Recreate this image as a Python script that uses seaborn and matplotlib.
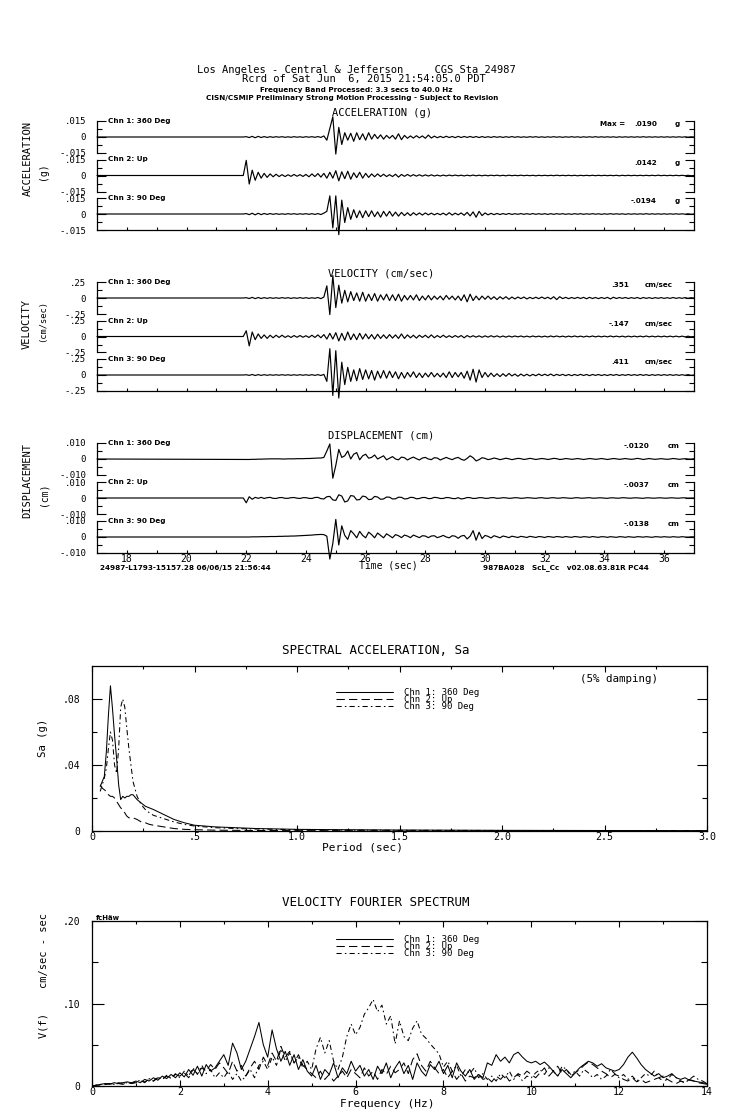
import numpy as np
import pandas as pd
import matplotlib
matplotlib.use("Agg")
import matplotlib.pyplot as plt
import matplotlib.transforms as mtransforms
import seaborn as sns

# ============================================
# DATA
# ============================================
# time histories sampled every 0.1 s from 21.9 s to 37.0 s (pre-event is flat from 17 s)
acc_ch1 = [0.0,
    0.0003, -0.0005, 0.0006, -0.0007, 0.0006, -0.0005, 0.0004, -0.0004, 0.0003, -0.0003,
    0.0003, -0.0002, 0.0003, -0.0003, 0.0002, -0.0003, 0.0003, -0.0002, 0.0002, -0.0003,
    0.0003, -0.0002, 0.0003, -0.0003, 0.0004, -0.0004, 0.0010, -0.0030, 0.0080, 0.0190,
    -0.0160, 0.0090, -0.0070, 0.0040, -0.0030, 0.0035, -0.0040, 0.0040, -0.0025, 0.0030,
    -0.0030, 0.0040, -0.0020, 0.0025, -0.0015, 0.0020, -0.0020, 0.0015, -0.0012, 0.0015,
    -0.0020, 0.0030, -0.0025, 0.0015, -0.0012, 0.0010, -0.0010, 0.0012, -0.0008, 0.0010,
    -0.0012, 0.0018, -0.0010, 0.0008, -0.0007, 0.0006, -0.0006, 0.0007, -0.0005, 0.0005,
    -0.0006, 0.0006, -0.0005, 0.0005, -0.0004, 0.0005, -0.0004, 0.0004, -0.0005, 0.0004,
    -0.0004, 0.0003, -0.0004, 0.0004, -0.0003, 0.0003, -0.0004, 0.0003, -0.0003, 0.0004,
    -0.0003, 0.0003, -0.0003, 0.0002, -0.0003, 0.0003, -0.0002, 0.0003, -0.0003, 0.0002,
    -0.0003, 0.0002, -0.0002, 0.0003, -0.0002, 0.0002, -0.0003, 0.0002, -0.0002, 0.0003,
    -0.0002, 0.0002, -0.0003, 0.0002, -0.0002, 0.0002, -0.0002, 0.0003, -0.0002, 0.0002,
    -0.0002, 0.0002, -0.0002, 0.0002, -0.0003, 0.0002, -0.0002, 0.0002, -0.0002, 0.0002,
    -0.0002, 0.0002, -0.0002, 0.0003, -0.0002, 0.0002, -0.0002, 0.0002, -0.0002, 0.0002,
    -0.0002, 0.0002, -0.0002, 0.0002, -0.0002, 0.0002, -0.0002, 0.0002, -0.0002, 0.0002,
    0.0]
acc_ch2 = [0.0,
    0.0142, -0.0080, 0.0050, -0.0045, 0.0030, -0.0025, 0.0020, -0.0018, 0.0015, -0.0012,
    0.0012, -0.0010, 0.0008, -0.0010, 0.0007, -0.0008, 0.0010, -0.0007, 0.0008, -0.0009,
    0.0010, -0.0012, 0.0015, -0.0010, 0.0018, -0.0015, 0.0020, -0.0025, 0.0030, -0.0025,
    0.0045, -0.0050, 0.0035, -0.0030, 0.0040, -0.0035, 0.0025, -0.0020, 0.0030, -0.0025,
    0.0020, -0.0018, 0.0015, -0.0012, 0.0015, -0.0010, 0.0012, -0.0010, 0.0008, -0.0010,
    0.0012, -0.0015, 0.0010, -0.0008, 0.0010, -0.0007, 0.0008, -0.0006, 0.0007, -0.0006,
    0.0006, -0.0005, 0.0006, -0.0005, 0.0004, -0.0005, 0.0004, -0.0004, 0.0004, -0.0003,
    0.0004, -0.0003, 0.0003, -0.0004, 0.0003, -0.0003, 0.0004, -0.0003, 0.0003, -0.0003,
    0.0003, -0.0003, 0.0003, -0.0002, 0.0003, -0.0003, 0.0002, -0.0003, 0.0003, -0.0002,
    0.0002, -0.0002, 0.0003, -0.0002, 0.0002, -0.0002, 0.0002, -0.0003, 0.0002, -0.0002,
    0.0002, -0.0002, 0.0002, -0.0002, 0.0003, -0.0002, 0.0002, -0.0002, 0.0002, -0.0002,
    0.0002, -0.0003, 0.0002, -0.0002, 0.0002, -0.0002, 0.0002, -0.0002, 0.0002, -0.0002,
    0.0002, -0.0002, 0.0002, -0.0002, 0.0002, -0.0003, 0.0002, -0.0002, 0.0002, -0.0002,
    0.0002, -0.0002, 0.0002, -0.0002, 0.0002, -0.0002, 0.0002, -0.0002, 0.0003, -0.0002,
    0.0002, -0.0002, 0.0002, -0.0002, 0.0002, -0.0002, 0.0002, -0.0002, 0.0002, -0.0002,
    0.0]
acc_ch3 = [0.0,
    0.0004, -0.0006, 0.0007, -0.0008, 0.0007, -0.0006, 0.0005, -0.0004, 0.0004, -0.0003,
    0.0003, -0.0003, 0.0002, -0.0003, 0.0003, -0.0002, 0.0003, -0.0003, 0.0002, -0.0002,
    0.0003, -0.0003, 0.0003, -0.0004, 0.0004, -0.0005, 0.0008, 0.0025, 0.0170, -0.0130,
    0.0170, -0.0194, 0.0130, -0.0080, 0.0060, -0.0050, 0.0040, -0.0035, 0.0030, -0.0035,
    0.0030, -0.0025, 0.0030, -0.0025, 0.0020, -0.0030, 0.0025, -0.0020, 0.0025, -0.0020,
    0.0018, -0.0020, 0.0015, -0.0015, 0.0012, -0.0015, 0.0012, -0.0010, 0.0010, -0.0010,
    0.0010, -0.0008, 0.0008, -0.0008, 0.0006, -0.0007, 0.0008, -0.0010, 0.0012, -0.0010,
    0.0008, -0.0008, 0.0010, -0.0012, 0.0015, -0.0018, 0.0020, -0.0030, 0.0025, -0.0015,
    0.0010, -0.0008, 0.0006, -0.0006, 0.0005, -0.0005, 0.0004, -0.0004, 0.0005, -0.0004,
    0.0003, -0.0003, 0.0004, -0.0003, 0.0003, -0.0003, 0.0004, -0.0003, 0.0003, -0.0003,
    0.0003, -0.0004, 0.0003, -0.0003, 0.0003, -0.0002, 0.0003, -0.0003, 0.0002, -0.0003,
    0.0003, -0.0002, 0.0003, -0.0003, 0.0002, -0.0002, 0.0003, -0.0002, 0.0002, -0.0003,
    0.0002, -0.0002, 0.0003, -0.0002, 0.0002, -0.0002, 0.0002, -0.0003, 0.0002, -0.0002,
    0.0002, -0.0002, 0.0002, -0.0002, 0.0003, -0.0002, 0.0002, -0.0002, 0.0002, -0.0002,
    0.0002, -0.0002, 0.0002, -0.0002, 0.0002, -0.0002, 0.0002, -0.0002, 0.0002, -0.0002,
    0.0]

vel_ch1 = [0.0,
    0.005, -0.008, 0.010, -0.010, 0.008, -0.008, 0.006, -0.006, 0.005, -0.005,
    0.004, -0.005, 0.006, -0.004, 0.005, -0.006, 0.004, -0.005, 0.006, -0.005,
    0.005, -0.006, 0.004, -0.005, 0.008, -0.010, 0.015, 0.190, -0.260, 0.351,
    -0.150, 0.200, -0.080, 0.120, -0.060, 0.100, -0.040, 0.080, -0.050, 0.090,
    -0.050, 0.060, -0.040, 0.070, -0.050, 0.050, -0.030, 0.060, -0.040, 0.050,
    -0.040, 0.060, -0.050, 0.040, -0.030, 0.040, -0.030, 0.050, -0.040, 0.030,
    -0.030, 0.040, -0.030, 0.030, -0.020, 0.030, -0.030, 0.040, -0.020, 0.030,
    -0.030, 0.030, -0.040, 0.050, -0.060, 0.060, -0.040, 0.030, -0.030, 0.030,
    -0.020, 0.030, -0.020, 0.020, -0.025, 0.020, -0.015, 0.020, -0.020, 0.015,
    -0.015, 0.015, -0.010, 0.015, -0.015, 0.010, -0.010, 0.012, -0.010, 0.015,
    -0.010, 0.012, -0.015, 0.020, -0.025, 0.020, -0.010, 0.010, -0.010, 0.008,
    -0.008, 0.010, -0.008, 0.010, -0.012, 0.010, -0.008, 0.008, -0.010, 0.008,
    -0.008, 0.010, -0.015, 0.012, -0.008, 0.008, -0.006, 0.008, -0.008, 0.006,
    -0.006, 0.008, -0.010, 0.008, -0.006, 0.006, -0.008, 0.006, -0.005, 0.006,
    -0.006, 0.005, -0.006, 0.008, -0.006, 0.005, -0.005, 0.006, -0.005, 0.005,
    0.0]
vel_ch2 = [0.0,
    0.090, -0.147, 0.070, -0.050, 0.040, -0.030, 0.025, -0.030, 0.020, -0.020,
    0.020, -0.015, 0.020, -0.015, 0.012, -0.015, 0.015, -0.012, 0.015, -0.012,
    0.012, -0.015, 0.020, -0.015, 0.025, -0.020, 0.030, -0.040, 0.050, -0.040,
    0.060, -0.070, 0.050, -0.060, 0.070, -0.050, 0.040, -0.050, 0.050, -0.040,
    0.040, -0.035, 0.030, -0.040, 0.035, -0.030, 0.025, -0.030, 0.030, -0.025,
    0.025, -0.030, 0.040, -0.030, 0.025, -0.020, 0.020, -0.025, 0.020, -0.015,
    0.020, -0.020, 0.025, -0.020, 0.015, -0.015, 0.020, -0.015, 0.012, -0.015,
    0.015, -0.012, 0.015, -0.020, 0.015, -0.010, 0.012, -0.010, 0.010, -0.012,
    0.010, -0.010, 0.012, -0.008, 0.010, -0.010, 0.008, -0.010, 0.008, -0.008,
    0.008, -0.006, 0.008, -0.008, 0.006, -0.008, 0.008, -0.006, 0.006, -0.008,
    0.006, -0.008, 0.008, -0.006, 0.008, -0.006, 0.006, -0.008, 0.006, -0.006,
    0.008, -0.006, 0.006, -0.008, 0.006, -0.006, 0.008, -0.006, 0.006, -0.006,
    0.006, -0.006, 0.008, -0.006, 0.006, -0.006, 0.006, -0.008, 0.006, -0.006,
    0.006, -0.006, 0.006, -0.006, 0.008, -0.006, 0.006, -0.006, 0.006, -0.006,
    0.006, -0.006, 0.006, -0.006, 0.006, -0.006, 0.006, -0.006, 0.005, -0.005,
    0.0]
vel_ch3 = [0.0,
    0.004, -0.006, 0.008, -0.008, 0.006, -0.006, 0.005, -0.005, 0.004, -0.004,
    0.004, -0.004, 0.005, -0.004, 0.004, -0.005, 0.004, -0.004, 0.005, -0.004,
    0.004, -0.005, 0.005, -0.006, 0.006, -0.008, 0.010, -0.100, 0.411, -0.320,
    0.380, -0.360, 0.200, -0.150, 0.120, -0.100, 0.080, -0.090, 0.100, -0.070,
    0.080, -0.060, 0.070, -0.080, 0.060, -0.050, 0.070, -0.050, 0.060, -0.040,
    0.050, -0.060, 0.040, -0.050, 0.040, -0.030, 0.050, -0.040, 0.030, -0.040,
    0.030, -0.030, 0.040, -0.030, 0.025, -0.030, 0.030, -0.040, 0.050, -0.040,
    0.040, -0.030, 0.040, -0.050, 0.060, -0.080, 0.090, -0.110, 0.080, -0.040,
    0.040, -0.030, 0.030, -0.025, 0.020, -0.025, 0.020, -0.020, 0.025, -0.015,
    0.015, -0.020, 0.015, -0.015, 0.012, -0.015, 0.010, -0.012, 0.015, -0.010,
    0.012, -0.010, 0.015, -0.012, 0.010, -0.008, 0.010, -0.010, 0.008, -0.010,
    0.008, -0.008, 0.010, -0.008, 0.008, -0.010, 0.008, -0.006, 0.008, -0.008,
    0.006, -0.008, 0.008, -0.006, 0.008, -0.008, 0.006, -0.006, 0.008, -0.006,
    0.006, -0.006, 0.008, -0.006, 0.006, -0.008, 0.006, -0.006, 0.006, -0.006,
    0.006, -0.005, 0.006, -0.006, 0.005, -0.006, 0.005, -0.005, 0.006, -0.005,
    0.0]

disp_ch1 = [-0.0003,
    -0.0003, -0.0003, -0.0002, -0.0002, -0.0001, -0.0001, 0.0000, 0.0000, 0.0001, 0.0001,
    0.0001, 0.0001, 0.0000, 0.0000, 0.0001, 0.0001, 0.0001, 0.0002, 0.0002, 0.0002,
    0.0003, 0.0003, 0.0004, 0.0005, 0.0006, 0.0006, 0.0010, 0.0050, 0.0094, -0.0120,
    -0.0040, 0.0060, 0.0010, 0.0020, 0.0050, 0.0000, 0.0030, 0.0040, -0.0005, 0.0020,
    0.0030, 0.0005, 0.0010, 0.0025, 0.0000, 0.0010, 0.0020, -0.0005, 0.0005, 0.0015,
    0.0000, -0.0005, 0.0012, 0.0008, -0.0006, 0.0004, 0.0012, 0.0002, -0.0006, 0.0006,
    0.0010, 0.0000, -0.0004, 0.0008, 0.0006, -0.0006, 0.0002, 0.0010, 0.0002, -0.0004,
    0.0005, 0.0010, -0.0002, -0.0008, 0.0004, 0.0020, 0.0008, -0.0012, -0.0004, 0.0008,
    0.0004, -0.0004, 0.0000, 0.0006, 0.0002, -0.0004, 0.0000, 0.0005, 0.0001, -0.0004,
    0.0000, 0.0004, 0.0002, -0.0003, 0.0000, 0.0004, 0.0001, -0.0003, 0.0000, 0.0003,
    0.0001, -0.0003, 0.0000, 0.0004, 0.0002, -0.0003, -0.0001, 0.0003, 0.0001, -0.0002,
    0.0000, 0.0003, 0.0000, -0.0003, 0.0000, 0.0003, 0.0001, -0.0002, 0.0000, 0.0003,
    0.0000, -0.0003, 0.0000, 0.0003, 0.0001, -0.0002, 0.0000, 0.0003, 0.0000, -0.0002,
    0.0000, 0.0004, 0.0001, -0.0003, 0.0000, 0.0003, 0.0000, -0.0002, 0.0000, 0.0002,
    0.0000, -0.0002, 0.0000, 0.0003, 0.0001, -0.0002, 0.0000, 0.0002, 0.0000, -0.0001,
    0.0002]
disp_ch2 = [0.0,
    -0.0030, 0.0008, -0.0008, 0.0004, -0.0002, 0.0004, -0.0003, 0.0002, 0.0004, -0.0002,
    -0.0003, 0.0002, 0.0003, -0.0002, -0.0002, 0.0002, 0.0003, -0.0001, -0.0003, 0.0002,
    0.0002, -0.0002, -0.0003, 0.0003, 0.0004, -0.0004, -0.0006, 0.0008, 0.0010, -0.0012,
    -0.0015, 0.0020, 0.0012, -0.0025, -0.0018, 0.0015, 0.0012, -0.0012, -0.0010, 0.0012,
    0.0008, -0.0010, -0.0008, 0.0010, 0.0006, -0.0008, -0.0006, 0.0006, 0.0005, -0.0006,
    -0.0005, 0.0005, 0.0004, -0.0006, -0.0004, 0.0004, 0.0003, -0.0005, -0.0003, 0.0003,
    0.0003, -0.0004, -0.0003, 0.0004, 0.0002, -0.0003, -0.0003, 0.0003, 0.0002, -0.0003,
    -0.0004, 0.0002, -0.0006, -0.0003, 0.0003, 0.0002, -0.0003, -0.0002, 0.0002, 0.0002,
    -0.0002, -0.0002, 0.0002, 0.0002, -0.0002, -0.0001, 0.0002, 0.0001, -0.0002, -0.0001,
    0.0002, 0.0001, -0.0002, -0.0001, 0.0002, 0.0001, -0.0001, -0.0002, 0.0001, 0.0002,
    -0.0001, -0.0002, 0.0001, 0.0002, -0.0001, -0.0001, 0.0002, 0.0001, -0.0001, -0.0002,
    0.0001, 0.0002, -0.0001, -0.0001, 0.0001, 0.0002, -0.0001, -0.0001, 0.0001, 0.0001,
    -0.0001, -0.0002, 0.0001, 0.0001, -0.0001, -0.0001, 0.0002, 0.0001, -0.0001, -0.0001,
    0.0001, 0.0001, -0.0001, -0.0002, 0.0001, 0.0001, -0.0001, -0.0001, 0.0001, 0.0001,
    -0.0001, -0.0001, 0.0001, 0.0001, -0.0001, -0.0001, 0.0001, 0.0001, -0.0001, 0.0000,
    0.0]
disp_ch3 = [0.0,
    0.0000, 0.0000, 0.0001, 0.0001, 0.0001, 0.0002, 0.0002, 0.0002, 0.0003, 0.0003,
    0.0003, 0.0004, 0.0004, 0.0005, 0.0005, 0.0006, 0.0006, 0.0007, 0.0008, 0.0009,
    0.0010, 0.0011, 0.0012, 0.0014, 0.0015, 0.0016, 0.0015, 0.0005, -0.0138, -0.0040,
    0.0110, -0.0050, 0.0070, 0.0010, -0.0015, 0.0040, 0.0020, -0.0005, 0.0035, 0.0010,
    -0.0005, 0.0030, 0.0015, -0.0005, 0.0025, 0.0010, -0.0005, 0.0020, 0.0008, -0.0005,
    0.0015, 0.0008, -0.0004, 0.0012, 0.0006, -0.0004, 0.0012, 0.0004, -0.0004, 0.0008,
    0.0006, -0.0004, 0.0006, 0.0008, -0.0004, 0.0002, 0.0010, 0.0000, -0.0005, 0.0008,
    0.0005, -0.0008, 0.0006, 0.0010, -0.0012, 0.0005, 0.0040, -0.0020, 0.0030, -0.0010,
    0.0010, 0.0004, -0.0006, 0.0008, 0.0002, -0.0005, 0.0006, 0.0002, -0.0004, 0.0005,
    0.0001, -0.0003, 0.0004, 0.0001, -0.0003, 0.0004, 0.0001, -0.0003, 0.0003, 0.0001,
    -0.0003, 0.0003, 0.0001, -0.0002, 0.0003, 0.0001, -0.0002, 0.0003, 0.0000, -0.0002,
    0.0003, 0.0001, -0.0002, 0.0002, 0.0001, -0.0002, 0.0003, 0.0000, -0.0002, 0.0002,
    0.0001, -0.0002, 0.0002, 0.0000, -0.0002, 0.0002, 0.0001, -0.0002, 0.0002, 0.0000,
    -0.0002, 0.0002, 0.0001, -0.0001, 0.0002, 0.0000, -0.0002, 0.0002, 0.0001, -0.0001,
    0.0002, 0.0000, -0.0001, 0.0002, 0.0000, -0.0001, 0.0002, 0.0000, -0.0001, 0.0001,
    0.0001]

channels = ["Chn 1: 360 Deg", "Chn 2: Up", "Chn 3: 90 Deg"]
acc_peaks = [".0190", ".0142", "-.0194"]
vel_peaks = [".351", "-.147", ".411"]
disp_peaks = ["-.0120", "-.0037", "-.0138"]
acc_ticklabels = [".015", "0", "-.015"]
vel_ticklabels = [".25", "0", "-.25"]
disp_ticklabels = [".010", "0", "-.010"]
time_ticks = [18, 20, 22, 24, 26, 28, 30, 32, 34, 36]
time_labels = ["18", "20", "22", "24", "26", "28", "30", "32", "34", "36"]

# spectral acceleration, 5% damping
periods = [0.04, 0.05, 0.06, 0.07, 0.08, 0.09, 0.10, 0.11, 0.12, 0.13, 0.14, 0.15,
           0.16, 0.17, 0.18, 0.19, 0.20, 0.22, 0.24, 0.26, 0.28, 0.30, 0.35, 0.40,
           0.45, 0.50, 0.60, 0.70, 0.80, 1.00, 1.20, 1.50, 2.00, 2.50, 3.00]
sa_ch1 = [0.027, 0.030, 0.033, 0.048, 0.070, 0.088, 0.074, 0.058, 0.044, 0.028,
          0.019, 0.021, 0.020, 0.021, 0.021, 0.022, 0.022, 0.019, 0.017, 0.015,
          0.014, 0.013, 0.010, 0.007, 0.005, 0.0035, 0.0025, 0.002, 0.0015, 0.001,
          0.0008, 0.0006, 0.0004, 0.0003, 0.0002]
sa_ch2 = [0.028, 0.026, 0.025, 0.024, 0.022, 0.021, 0.021, 0.020, 0.018, 0.016,
          0.014, 0.013, 0.011, 0.009, 0.008, 0.008, 0.008, 0.007, 0.0055, 0.005,
          0.004, 0.0035, 0.0025, 0.0015, 0.001, 0.0008, 0.0005, 0.0004, 0.0003, 0.0002,
          0.0002, 0.0001, 0.0001, 0.0001, 0.0001]
sa_ch3 = [0.024, 0.028, 0.032, 0.038, 0.050, 0.060, 0.055, 0.040, 0.035, 0.050,
          0.075, 0.080, 0.075, 0.062, 0.050, 0.040, 0.030, 0.021, 0.016, 0.013,
          0.011, 0.0095, 0.0075, 0.0055, 0.004, 0.003, 0.002, 0.0015, 0.0012, 0.0008,
          0.0006, 0.0004, 0.0003, 0.0002, 0.0002]
sa_xticks = [0, 0.5, 1.0, 1.5, 2.0, 2.5, 3.0]
sa_xlabels = ["0", ".5", "1.0", "1.5", "2.0", "2.5", "3.0"]
sa_yticks = [0, 0.04, 0.08]
sa_ylabels = ["0", ".04", ".08"]

# velocity Fourier spectrum, every 0.1 Hz from 0 to 14 Hz
fas_ch1 = [0.0, 0.001, 0.002, 0.003, 0.002, 0.004, 0.003, 0.004, 0.005, 0.004,
           0.006, 0.004, 0.008, 0.006, 0.010, 0.007, 0.012, 0.009, 0.014, 0.010,
           0.016, 0.011, 0.020, 0.013, 0.024, 0.012, 0.026, 0.018, 0.022, 0.030,
           0.038, 0.025, 0.052, 0.040, 0.020, 0.030, 0.045, 0.060, 0.077, 0.050,
           0.035, 0.068, 0.045, 0.030, 0.042, 0.025, 0.038, 0.020, 0.032, 0.018,
           0.012, 0.025, 0.008, 0.020, 0.014, 0.028, 0.010, 0.022, 0.015, 0.030,
           0.018, 0.025, 0.012, 0.020, 0.008, 0.024, 0.015, 0.028, 0.010, 0.022,
           0.030, 0.015, 0.025, 0.008, 0.028, 0.018, 0.012, 0.026, 0.020, 0.030,
           0.015, 0.025, 0.010, 0.028, 0.018, 0.012, 0.020, 0.008, 0.014, 0.010,
           0.028, 0.025, 0.038, 0.030, 0.035, 0.028, 0.038, 0.041, 0.035, 0.030,
           0.028, 0.030, 0.026, 0.029, 0.024, 0.018, 0.012, 0.020, 0.015, 0.010,
           0.016, 0.022, 0.026, 0.030, 0.028, 0.024, 0.027, 0.022, 0.020, 0.018,
           0.020, 0.026, 0.035, 0.041, 0.034, 0.026, 0.020, 0.016, 0.012, 0.015,
           0.010, 0.012, 0.015, 0.010, 0.008, 0.010, 0.007, 0.006, 0.005, 0.004,
           0.003]
fas_ch2 = [0.0, 0.001, 0.001, 0.002, 0.003, 0.002, 0.003, 0.002, 0.004, 0.003,
           0.004, 0.006, 0.005, 0.008, 0.006, 0.010, 0.008, 0.012, 0.010, 0.014,
           0.012, 0.016, 0.010, 0.020, 0.015, 0.022, 0.018, 0.026, 0.020, 0.028,
           0.022, 0.015, 0.030, 0.018, 0.025, 0.012, 0.022, 0.030, 0.020, 0.035,
           0.025, 0.040, 0.030, 0.048, 0.035, 0.042, 0.028, 0.038, 0.025, 0.020,
           0.015, 0.010, 0.018, 0.008, 0.014, 0.006, 0.012, 0.018, 0.010, 0.020,
           0.015, 0.010, 0.022, 0.012, 0.018, 0.008, 0.020, 0.014, 0.024, 0.016,
           0.020, 0.028, 0.015, 0.032, 0.039, 0.025, 0.018, 0.030, 0.022, 0.015,
           0.020, 0.010, 0.018, 0.008, 0.015, 0.006, 0.012, 0.010, 0.014, 0.008,
           0.010, 0.005, 0.012, 0.008, 0.014, 0.006, 0.010, 0.015, 0.012, 0.018,
           0.014, 0.010, 0.016, 0.022, 0.012, 0.018, 0.024, 0.015, 0.020, 0.012,
           0.016, 0.020, 0.025, 0.029, 0.026, 0.022, 0.018, 0.015, 0.010, 0.014,
           0.012, 0.008, 0.006, 0.010, 0.005, 0.008, 0.004, 0.006, 0.008, 0.010,
           0.006, 0.008, 0.005, 0.003, 0.006, 0.004, 0.008, 0.006, 0.004, 0.003,
           0.002]
fas_ch3 = [0.0, 0.001, 0.002, 0.002, 0.003, 0.002, 0.004, 0.003, 0.004, 0.003,
           0.005, 0.007, 0.004, 0.009, 0.006, 0.011, 0.008, 0.013, 0.009, 0.015,
           0.010, 0.018, 0.012, 0.022, 0.014, 0.025, 0.015, 0.020, 0.010, 0.016,
           0.010, 0.018, 0.008, 0.015, 0.006, 0.012, 0.020, 0.010, 0.025, 0.030,
           0.020, 0.035, 0.025, 0.045, 0.030, 0.040, 0.028, 0.035, 0.022, 0.030,
           0.020, 0.045, 0.059, 0.040, 0.055, 0.030, 0.020, 0.035, 0.060, 0.075,
           0.062, 0.071, 0.087, 0.095, 0.105, 0.090, 0.098, 0.075, 0.085, 0.051,
           0.079, 0.060, 0.055, 0.070, 0.079, 0.063, 0.058, 0.051, 0.045, 0.039,
           0.023, 0.030, 0.018, 0.025, 0.012, 0.020, 0.015, 0.022, 0.010, 0.015,
           0.008, 0.012, 0.006, 0.015, 0.010, 0.018, 0.008, 0.014, 0.006, 0.012,
           0.010, 0.016, 0.020, 0.014, 0.022, 0.018, 0.012, 0.024, 0.020, 0.014,
           0.018, 0.012, 0.020, 0.016, 0.010, 0.014, 0.008, 0.012, 0.020, 0.015,
           0.010, 0.014, 0.008, 0.012, 0.006, 0.010, 0.015, 0.012, 0.018, 0.010,
           0.012, 0.008, 0.014, 0.010, 0.006, 0.004, 0.008, 0.012, 0.008, 0.006,
           0.003]
fas_xticks = [0, 2, 4, 6, 8, 10, 12, 14]
fas_xlabels = ["0", "2", "4", "6", "8", "10", "12", "14"]
fas_yticks = [0, 0.10, 0.20]
fas_ylabels = ["0", ".10", ".20"]


# ============================================
# STYLE / LAYOUT HELPERS
# ============================================
sns.set_theme(context="paper", style="ticks")
plt.rcParams["font.family"] = ["DejaVu Sans Mono", "DejaVu Sans"]
plt.rcParams["axes.edgecolor"] = "black"
plt.rcParams["xtick.color"] = "black"
plt.rcParams["ytick.color"] = "black"
plt.rcParams["text.color"] = "black"

W, H = 739, 1115
fig = plt.figure(figsize=(W / 100, H / 100), dpi=100)


def fx(px):
    return px / W


def fy(py):
    return 1 - py / H


MONO = dict(family="DejaVu Sans Mono")
SMALL = dict(family="DejaVu Sans", weight="bold", size=5.2)
LINE = dict(color="black", linewidth=0.85)

X0, X1 = 97, 694       # time axis edges in pixels
HALF = 19.25           # half height of one channel strip (px)
BRACKET = 16           # half height of the tick bracket (px)


def draw_channel(zero_px, values, scale, ticklabels, chan, peak, unit,
                 value_x, unit_x, bottom_row, show_time, prefix=None):
    ax = fig.add_axes([fx(X0), fy(zero_px + HALF), (X1 - X0) / W, 2 * HALF / H])
    ax.set_facecolor("none")
    t = np.concatenate([[17.0], 21.9 + 0.1 * np.arange(len(values))])
    v = np.concatenate([[0.0], values])
    sns.lineplot(x=t, y=v, ax=ax, estimator=None, sort=False, clip_on=False, **LINE)

    lim = scale * HALF / BRACKET
    ax.set_xlim(17, 37)
    ax.set_ylim(-lim, lim)
    ax.set_xlabel("")
    ax.set_ylabel("")
    for side in ("left", "right"):
        ax.spines[side].set_bounds(-scale, scale)
        ax.spines[side].set_linewidth(0.9)
    ax.spines["top"].set_visible(False)

    ax.set_yticks([scale, 0, -scale])
    ax.set_yticklabels(ticklabels, fontsize=6.5, **MONO)
    ax.set_yticks([scale / 2, -scale / 2], minor=True)
    ax.tick_params(axis="y", which="major", direction="in", length=6.5, width=0.8,
                   right=True, pad=8)
    ax.tick_params(axis="y", which="minor", direction="in", length=3.6, width=0.8,
                   right=True)

    if bottom_row:
        ax.spines["bottom"].set_position(("data", -scale))
        ax.spines["bottom"].set_linewidth(0.9)
        ax.set_xticks(time_ticks)
        ax.set_xticks(range(19, 37, 2), minor=True)
        ax.tick_params(axis="x", which="both", direction="in", length=2.5, width=0.8,
                       top=False, labelbottom=show_time, pad=1)
        if show_time:
            ax.set_xticklabels(time_labels, fontsize=7, **MONO)
    else:
        ax.spines["bottom"].set_visible(False)
        ax.tick_params(axis="x", which="both", bottom=False, labelbottom=False)

    trans = mtransforms.blended_transform_factory(ax.transAxes, ax.transData)
    ax.text(11 / (X1 - X0), scale, chan, ha="left", va="center", transform=trans, **SMALL)
    ax.text(value_x, 0.8 * scale, peak, ha="right", va="center", transform=trans, **SMALL)
    ax.text(unit_x, 0.8 * scale, unit, ha="left", va="center", transform=trans, **SMALL)
    if prefix:
        ax.text(0.8425, 0.8 * scale, prefix, ha="left", va="center", transform=trans, **SMALL)
    return ax


# ============================================
# HEADER
# ============================================
fig.text(fx(356), fy(70), "Los Angeles - Central & Jefferson     CGS Sta 24987",
         ha="center", va="center", size=7.5, **MONO)
fig.text(fx(364), fy(79), "Rcrd of Sat Jun  6, 2015 21:54:05.0 PDT",
         ha="center", va="center", size=7.5, **MONO)
fig.text(fx(356), fy(90), "Frequency Band Processed: 3.3 secs to 40.0 Hz",
         ha="center", va="center", **SMALL)
fig.text(fx(352), fy(98), "CISN/CSMIP Preliminary Strong Motion Processing - Subject to Revision",
         ha="center", va="center", **SMALL)

# ============================================
# TIME HISTORIES
# ============================================
acc_zero = [137, 175.5, 214]
vel_zero = [298, 336.5, 375]
disp_zero = [459, 498, 537]

for i, vals in enumerate([acc_ch1, acc_ch2, acc_ch3]):
    draw_channel(acc_zero[i], vals, 0.015, acc_ticklabels, channels[i], acc_peaks[i], "g",
                 0.938, 0.968, i == 2, False, "Max =" if i == 0 else None)
for i, vals in enumerate([vel_ch1, vel_ch2, vel_ch3]):
    draw_channel(vel_zero[i], vals, 0.25, vel_ticklabels, channels[i], vel_peaks[i], "cm/sec",
                 0.891, 0.918, i == 2, False)
for i, vals in enumerate([disp_ch1, disp_ch2, disp_ch3]):
    draw_channel(disp_zero[i], vals, 0.010, disp_ticklabels, channels[i], disp_peaks[i], "cm",
                 0.926, 0.956, i == 2, True)

fig.text(fx(382), fy(113), "ACCELERATION (g)", ha="center", va="center", size=7.5, **MONO)
fig.text(fx(381), fy(274), "VELOCITY (cm/sec)", ha="center", va="center", size=7.5, **MONO)
fig.text(fx(381), fy(435), "DISPLACEMENT (cm)", ha="center", va="center", size=7.5, **MONO)

fig.text(fx(28), fy(159), "ACCELERATION", rotation=90, ha="center", va="center", size=7.5, **MONO)
fig.text(fx(43), fy(171), "(g)", rotation=90, ha="center", va="center", size=7, **MONO)
fig.text(fx(27), fy(324), "VELOCITY", rotation=90, ha="center", va="center", size=7.5, **MONO)
fig.text(fx(43), fy(321), "(cm/sec)", rotation=90, ha="center", va="center", size=6.3, **MONO)
fig.text(fx(27), fy(481), "DISPLACEMENT", rotation=90, ha="center", va="center", size=7.5, **MONO)
fig.text(fx(43), fy(494), "(cm)", rotation=90, ha="center", va="center", size=7, **MONO)

fig.text(fx(388), fy(566), "Time (sec)", ha="center", va="center", size=7, **MONO)
fig.text(fx(100), fy(568), "24987-L1793-15157.28 06/06/15 21:56:44", ha="left", va="center", **SMALL)
fig.text(fx(483), fy(568), "987BA028   ScL_Cc   v02.08.63.81R PC44", ha="left", va="center", **SMALL)

# ============================================
# SPECTRA
# ============================================
dash_map = {channels[0]: "", channels[1]: (8, 4), channels[2]: (5, 3, 1.5, 3)}
SPEC_LINE = dict(color="black", linewidth=0.75)


def spectrum_panel(top_px, bottom_px, df, xcol, ycol, xlim, ylim):
    ax = fig.add_axes([fx(92), fy(bottom_px), (707 - 92) / W, (bottom_px - top_px) / H])
    sns.lineplot(data=df, x=xcol, y=ycol, style="channel", dashes=dash_map, ax=ax,
                 estimator=None, sort=False, **SPEC_LINE)
    ax.set_xlim(*xlim)
    ax.set_ylim(*ylim)
    ax.set_xlabel("")
    ax.set_ylabel("")
    for s in ax.spines.values():
        s.set_linewidth(0.9)
    leg = ax.get_legend()
    handles = leg.legend_handles
    labels = [t.get_text() for t in leg.get_texts()]
    leg.remove()
    return ax, handles, labels


LEGEND_KW = dict(loc="upper left", frameon=False, handlelength=6.3, handletextpad=1.2,
                 labelspacing=-0.2, borderpad=0, borderaxespad=0,
                 prop=dict(family="DejaVu Sans Mono", size=6.5))

sa_df = pd.concat([
    pd.DataFrame({"period": periods, "sa": vals, "channel": ch})
    for ch, vals in zip(channels, [sa_ch1, sa_ch2, sa_ch3])
])
ax, handles, labels = spectrum_panel(666, 831, sa_df, "period", "sa", (0, 3.0), (0, 0.10))
ax.set_xticks(sa_xticks)
ax.set_xticklabels(sa_xlabels, fontsize=7.2, **MONO)
ax.set_xticks([0.25, 0.75, 1.25, 1.75, 2.25, 2.75], minor=True)
ax.set_yticks(sa_yticks)
ax.set_yticklabels(sa_ylabels, fontsize=7, **MONO)
ax.set_yticks([0.02, 0.06], minor=True)
ax.tick_params(axis="x", which="major", direction="in", length=4.5, width=0.8, top=True, pad=1)
ax.tick_params(axis="x", which="minor", direction="in", length=2.3, width=0.8, top=True)
ax.tick_params(axis="y", which="major", direction="in", length=7.5, width=0.8, right=True, pad=8.5)
ax.tick_params(axis="y", which="minor", direction="in", length=3.8, width=0.8, right=True)
ax.legend(handles, labels, bbox_to_anchor=(0.397, 0.866), **LEGEND_KW)
ax.text((580 - 92) / 615, (831 - 679) / 165, "(5% damping)", transform=ax.transAxes,
        ha="left", va="center", size=7.8, **MONO)
fig.text(fx(376), fy(650), "SPECTRAL ACCELERATION, Sa", ha="center", va="center", size=9, **MONO)
fig.text(fx(362), fy(848), "Period (sec)", ha="center", va="center", size=8, **MONO)
fig.text(fx(43), fy(738), "Sa (g)", rotation=90, ha="center", va="center", size=7.7, **MONO)

freqs = np.round(0.1 * np.arange(len(fas_ch1)), 1)
fas_df = pd.concat([
    pd.DataFrame({"freq": freqs, "fas": vals, "channel": ch})
    for ch, vals in zip(channels, [fas_ch1, fas_ch2, fas_ch3])
])
ax, handles, labels = spectrum_panel(921, 1086, fas_df, "freq", "fas", (0, 14), (0, 0.20))
ax.set_xticks(fas_xticks)
ax.set_xticklabels(fas_xlabels, fontsize=7.2, **MONO)
ax.set_xticks(range(1, 14, 2), minor=True)
ax.set_yticks(fas_yticks)
ax.set_yticklabels(fas_ylabels, fontsize=7, **MONO)
ax.set_yticks([0.05, 0.15], minor=True)
ax.tick_params(axis="x", which="major", direction="in", length=4.5, width=0.8, top=True, pad=1)
ax.tick_params(axis="x", which="minor", direction="in", length=2.3, width=0.8, top=True)
ax.tick_params(axis="y", which="major", direction="in", length=8.6, width=0.8, right=True, pad=8.5)
ax.tick_params(axis="y", which="minor", direction="in", length=4.3, width=0.8, right=True)
ax.legend(handles, labels, bbox_to_anchor=(0.397, 0.917), **LEGEND_KW)
ax.text(4 / 615, 1.0, "fcH\u00e4w", transform=ax.transAxes, ha="left", va="bottom",
        family="DejaVu Sans", weight="bold", size=5)
fig.text(fx(376), fy(903), "VELOCITY FOURIER SPECTRUM", ha="center", va="center", size=9, **MONO)
fig.text(fx(387), fy(1104), "Frequency (Hz)", ha="center", va="center", size=8, **MONO)
fig.text(fx(43), fy(975), "V(f)    cm/sec - sec", rotation=90, ha="center", va="center",
         size=7.5, **MONO)

fig.savefig("out.png", dpi=100)
